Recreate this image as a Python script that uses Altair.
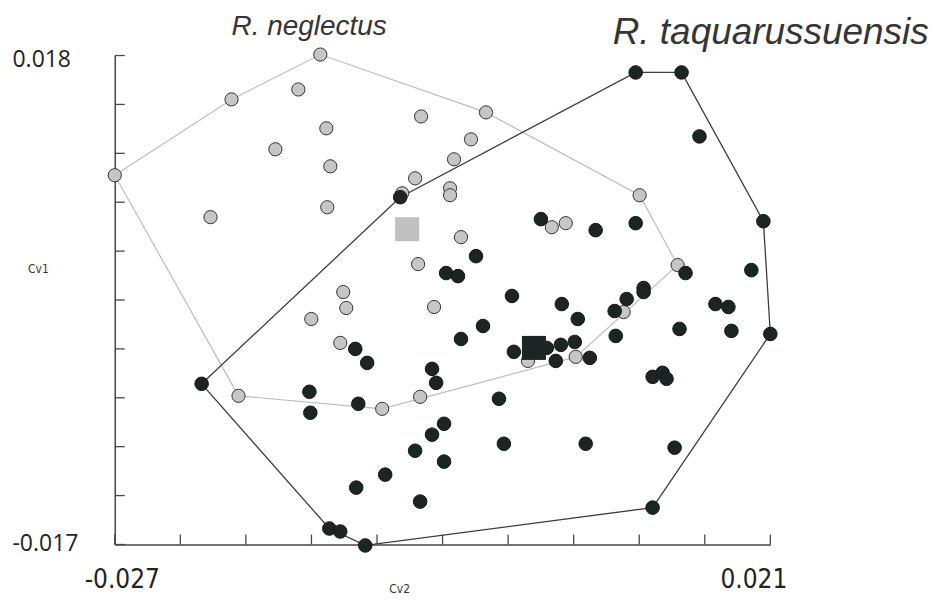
import altair as alt
import pandas as pd

# ---- data ----
species = ["R. neglectus", "R. taquarussuensis"]

gray_x = [-0.01195, -0.01845, -0.01356, -0.00457, -0.01151, -0.01524, -0.01122, -0.02700,
          -0.00501, -0.00596, -0.00216, -0.00245, -0.00245, -0.01999, -0.01144, -0.00479,
          0.00018, -0.00092, 0.01143, 0.00500, 0.00602, -0.00165, 0.01421, -0.01027,
          -0.01005, -0.00362, -0.01261, -0.01049, -0.01794, -0.00742, -0.00464, 0.00325,
          0.00675, 0.01026]
gray_y = [0.01807, 0.01486, 0.01557, 0.01364, 0.01279, 0.01129, 0.01007, 0.00943,
          0.00921, 0.00814, 0.01057, 0.00850, 0.00800, 0.00643, 0.00714, 0.00307,
          0.01393, 0.01200, 0.00800, 0.00571, 0.00600, 0.00500, 0.00300, 0.00107,
          -0.00007, 0.00000, -0.00086, -0.00257, -0.00636, -0.00729, -0.00643, -0.00386,
          -0.00357, -0.00036]

black_x = [-0.00610, 0.01114, 0.01450, 0.01581, 0.02049, 0.00420, 0.00821, 0.01114,
           -0.00055, -0.00274, -0.00187, 0.01479, 0.01961, 0.01172, -0.00939, -0.00852,
           -0.00377, -0.00347, -0.02064, -0.01275, -0.01268, -0.00917, -0.00289, -0.00377,
           -0.00501, -0.00289, -0.00720, -0.00932, -0.00464, -0.01129, -0.01049, -0.00866,
           0.00208, 0.00573, 0.00690, -0.00004, -0.00165, 0.00222, 0.00463, 0.00566,
           0.00668, 0.00529, 0.00778, 0.00960, 0.01048, 0.01172, 0.00968, 0.01698,
           0.01793, 0.01435, 0.01815, 0.02100, 0.01238, 0.01311, 0.01340, 0.00113,
           0.00149, 0.00748, 0.01399, 0.01238]
black_y = [0.00786, 0.01679, 0.01679, 0.01221, 0.00614, 0.00629, 0.00550, 0.00600,
           0.00364, 0.00243, 0.00221, 0.00243, 0.00264, 0.00136, -0.00300, -0.00400,
           -0.00443, -0.00543, -0.00550, -0.00607, -0.00757, -0.00693, -0.00836, -0.00914,
           -0.01029, -0.01107, -0.01200, -0.01293, -0.01393, -0.01586, -0.01607, -0.01707,
           0.00079, 0.00021, -0.00086, -0.00136, -0.00229, -0.00321, -0.00293, -0.00271,
           -0.00250, -0.00386, -0.00364, -0.00029, 0.00057, 0.00107, -0.00207, 0.00021,
           0.00000, -0.00157, -0.00171, -0.00193, -0.00500, -0.00471, -0.00514, -0.00657,
           -0.00979, -0.00979, -0.01007, -0.01436]

centroid_x = [-0.00559, 0.00369]
centroid_y = [0.00557, -0.00293]

x_ticks = [-0.027, -0.0222, -0.0174, -0.0126, -0.0078, -0.003, 0.0018, 0.0066, 0.0114, 0.0162, 0.021]
y_ticks = [-0.017, -0.0135, -0.010, -0.0065, -0.003, 0.0005, 0.004, 0.0075, 0.011, 0.0145, 0.018]
x_labels = [-0.027, 0.021]
y_labels = [-0.017, 0.018]

GRAY_FILL = "#c6c6c6"
DARK_FILL = "#1c2523"
COND_FONT = "'DejaVu Sans Condensed', Roboto, 'Liberation Sans', sans-serif"


def hull(xs, ys):
    pts = sorted(set(zip(xs, ys)))

    def cross(o, a, b):
        return (a[0] - o[0]) * (b[1] - o[1]) - (a[1] - o[1]) * (b[0] - o[0])

    lower, upper = [], []
    for p in pts:
        while len(lower) >= 2 and cross(lower[-2], lower[-1], p) <= 0:
            lower.pop()
        lower.append(p)
    for p in reversed(pts):
        while len(upper) >= 2 and cross(upper[-2], upper[-1], p) <= 0:
            upper.pop()
        upper.append(p)
    h = lower[:-1] + upper[:-1]
    h.append(h[0])
    return pd.DataFrame({"x": [p[0] for p in h], "y": [p[1] for p in h], "i": list(range(len(h)))})


xscale = alt.Scale(domain=[-0.027, 0.021], nice=False, zero=False)
yscale = alt.Scale(domain=[-0.017, 0.018], nice=False, zero=False)

label_expr = "datum.value < 0 ? '-' + format(-datum.value, '.3f') : format(datum.value, '.3f')"

xaxis = alt.Axis(
    values=x_labels, labelExpr=label_expr, grid=False, ticks=False, tickSize=0,
    labelFont=COND_FONT, labelFontSize=26, labelColor="#222222",
    labelPadding=35, labelBaseline="middle", labelFlush=False, labelOverlap=False,
    labelOffset={"condition": {"test": "datum.value < 0", "value": 7}, "value": -17},
    domainColor="#474747", domainWidth=1.5,
    title="Cv2", titleX=285, titleY=44, titleFont=COND_FONT,
    titleFontSize=12, titleFontWeight="normal", titleColor="#333333",
    titleAlign="center", titleBaseline="middle",
)
yaxis = alt.Axis(
    values=y_labels, labelExpr=label_expr, grid=False, ticks=False, tickSize=0,
    labelFont="Open Sans", labelFontSize=23, labelColor="#222222",
    labelPadding=103, labelAlign="left", labelBaseline="middle", labelFlush=False,
    labelOverlap=False,
    labelOffset={"condition": {"test": "datum.value > 0", "value": 4}, "value": -1},
    domainColor="#474747", domainWidth=1.5,
    title="Cv1", titleAngle=0, titleX=-77, titleY=213, titleFont=COND_FONT,
    titleFontSize=12, titleFontWeight="normal", titleColor="#333333",
    titleAlign="center", titleBaseline="middle",
)

X = alt.X("x:Q", scale=xscale, axis=xaxis)
Y = alt.Y("y:Q", scale=yscale, axis=yaxis)

gray_df = pd.DataFrame({"x": gray_x, "y": gray_y})
black_df = pd.DataFrame({"x": black_x, "y": black_y})
cent_df = pd.DataFrame({"x": centroid_x, "y": centroid_y, "s": species})

gray_hull = alt.Chart(hull(gray_x, gray_y)).mark_line(
    color="#bdbdbd", strokeWidth=1.2).encode(x=X, y=Y, order="i:Q")
black_hull = alt.Chart(hull(black_x, black_y)).mark_line(
    color="#3d3d3d", strokeWidth=1.3).encode(x=X, y=Y, order="i:Q")

xt = alt.Chart(pd.DataFrame({"x": x_ticks})).mark_rule(color="#474747", strokeWidth=1.3).encode(
    x=X, y=alt.value(480), y2=alt.value(490))
yt = alt.Chart(pd.DataFrame({"y": y_ticks})).mark_rule(color="#474747", strokeWidth=1.3).encode(
    y=Y, x=alt.value(0), x2=alt.value(10))

gray_pts = alt.Chart(gray_df).mark_circle(
    size=175, opacity=1, fill=GRAY_FILL, stroke="#333333", strokeWidth=1).encode(x=X, y=Y)
black_pts = alt.Chart(black_df).mark_circle(
    size=185, opacity=1, fill=DARK_FILL, stroke="#111815", strokeWidth=1).encode(x=X, y=Y)

cents = alt.Chart(cent_df).mark_square(size=580, opacity=1).encode(
    x=X, y=Y,
    color=alt.Color("s:N", scale=alt.Scale(domain=species, range=["#c0c0c0", DARK_FILL]), legend=None),
)

t1 = alt.Chart(pd.DataFrame({"t": [species[0]]})).mark_text(
    align="left", baseline="alphabetic", font="Liberation Sans", fontStyle="italic",
    fontSize=28, color="#353535").encode(x=alt.value(117), y=alt.value(-21), text="t:N")
t2 = alt.Chart(pd.DataFrame({"t": [species[1]]})).mark_text(
    align="left", baseline="alphabetic", font="Liberation Sans", fontStyle="italic",
    fontSize=37, color="#353535").encode(x=alt.value(499), y=alt.value(-12), text="t:N")

chart = alt.layer(gray_hull, black_hull, xt, yt, gray_pts, black_pts, cents, t1, t2).properties(
    width=657, height=490,
    autosize=alt.AutoSizeParams(type="none"),
    padding={"left": 107, "top": 47, "right": 160, "bottom": 52},
).configure_view(stroke=None)

chart.save("out.html", embed_options={"renderer": "svg", "actions": False})
